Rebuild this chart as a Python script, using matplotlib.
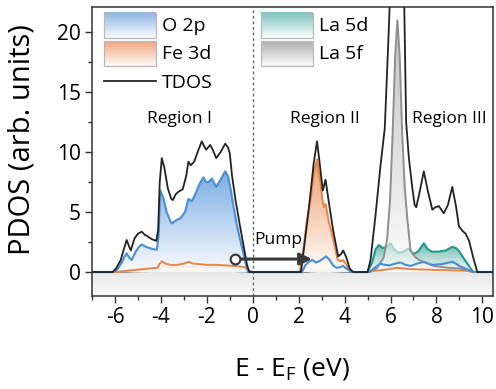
import numpy as np
import matplotlib
matplotlib.use("Agg")
import matplotlib.pyplot as plt
import matplotlib.colors as mcolors
from matplotlib.patches import Rectangle

plt.rcParams['font.family'] = ['Open Sans', 'DejaVu Sans']
plt.rcParams['axes.unicode_minus'] = False
plt.rcParams['mathtext.fontset'] = 'custom'
plt.rcParams['mathtext.rm'] = 'Open Sans'
plt.rcParams['mathtext.it'] = 'Open Sans:italic'

# ---------------- data (energy eV, PDOS arb. units) ----------------
TDOS = [(-7.0, 0), (-6.1, 0), (-5.95, 0.3), (-5.75, 1.0), (-5.6, 2.0), (-5.49, 2.67), (-5.4, 2.2),
        (-5.31, 1.8), (-5.15, 2.8), (-5.0, 3.2), (-4.83, 3.36), (-4.7, 3.1), (-4.6, 3.0),
        (-4.45, 2.8), (-4.35, 2.7), (-4.2, 2.6), (-4.12, 3.5), (-4.05, 7.5), (-3.96, 9.5),
        (-3.85, 8.7), (-3.7, 7.0), (-3.55, 6.1), (-3.48, 6.0), (-3.35, 6.5), (-3.23, 6.7),
        (-3.05, 6.9), (-2.9, 8.0), (-2.8, 9.2), (-2.7, 8.9), (-2.55, 9.2), (-2.4, 10.0),
        (-2.22, 10.9), (-2.12, 10.5), (-2.03, 10.2), (-1.85, 10.6), (-1.72, 10.1), (-1.59, 9.5),
        (-1.4, 10.0), (-1.2, 10.7), (-1.08, 10.4), (-1.0, 9.9), (-0.9, 8.0), (-0.75, 6.0),
        (-0.57, 4.0), (-0.4, 2.2), (-0.25, 0.6), (-0.15, 0),
        (2.1, 0), (2.2, 1.5), (2.35, 3.8), (2.5, 6.3), (2.65, 9.0), (2.8, 10.9), (2.92, 9.0),
        (3.05, 6.8), (3.17, 7.7), (3.3, 6.0), (3.5, 3.5), (3.72, 1.3), (3.85, 1.5), (3.94, 1.8),
        (4.08, 1.2), (4.22, 0.3), (4.37, 0),
        (5.0, 0), (5.13, 1.0), (5.34, 4.6), (5.56, 8.8), (5.75, 12.0), (5.92, 20.0), (6.0, 24.0),
        (6.3, 36.0), (6.6, 22.0), (6.68, 12.5), (6.8, 9.5), (6.95, 7.0), (7.05, 5.6), (7.12, 5.4),
        (7.25, 6.5), (7.45, 8.4), (7.62, 6.8), (7.82, 5.2), (7.95, 5.4), (8.1, 5.5), (8.32, 4.9),
        (8.5, 5.6), (8.69, 7.1), (8.85, 5.5), (8.98, 3.8), (9.15, 3.4), (9.27, 3.2), (9.42, 2.6),
        (9.63, 1.0), (9.78, 0), (10.45, 0)]

O2P = [(-7, 0), (-6.1, 0), (-5.9, 0.2), (-5.7, 0.8), (-5.58, 1.3), (-5.49, 1.56), (-5.38, 1.2),
       (-5.27, 1.0), (-5.1, 1.7), (-4.95, 2.1), (-4.83, 2.3), (-4.65, 2.1), (-4.5, 2.0),
       (-4.33, 1.9), (-4.18, 1.85), (-4.1, 3.0), (-4.03, 6.8), (-3.9, 6.2), (-3.75, 5.0),
       (-3.6, 4.3), (-3.52, 4.05), (-3.35, 4.3), (-3.15, 4.5), (-2.95, 5.0), (-2.8, 6.1),
       (-2.65, 5.9), (-2.5, 6.5), (-2.3, 7.4), (-2.15, 7.9), (-2.03, 7.5), (-1.93, 7.5),
       (-1.78, 7.8), (-1.68, 7.4), (-1.59, 7.1), (-1.4, 7.7), (-1.2, 8.4), (-1.08, 8.0),
       (-0.97, 7.0), (-0.85, 5.6), (-0.7, 4.0), (-0.55, 2.7), (-0.4, 1.5), (-0.28, 0.5), (-0.2, 0),
       (2.15, 0), (2.3, 0.6), (2.45, 0.85), (2.6, 1.0), (2.75, 0.8), (2.9, 0.9), (3.05, 1.1),
       (3.2, 1.3), (3.35, 1.0), (3.5, 0.55), (3.65, 0.35), (3.8, 0.4), (3.94, 0.5), (4.1, 0.25),
       (4.3, 0), (5.1, 0), (5.27, 0.3), (5.56, 0.7), (5.75, 0.6), (5.95, 0.55), (6.2, 0.7),
       (6.44, 0.8), (6.65, 0.6), (6.87, 0.5), (7.15, 0.7), (7.45, 0.85), (7.65, 0.7), (7.8, 0.6),
       (8.2, 0.65), (8.45, 0.75), (8.69, 0.85), (8.85, 0.7), (9.0, 0.5), (9.3, 0.25), (9.6, 0),
       (10.45, 0)]

FE3D = [(-7, 0), (-5.8, 0), (-5.5, 0.1), (-5.0, 0.2), (-4.5, 0.3), (-4.15, 0.35), (-4.05, 0.7),
        (-3.95, 0.9), (-3.8, 0.7), (-3.6, 0.6), (-3.3, 0.6), (-3.0, 0.7), (-2.8, 0.85), (-2.6, 0.7),
        (-2.3, 0.65), (-2.0, 0.6), (-1.6, 0.6), (-1.2, 0.55), (-0.8, 0.5), (-0.5, 0.45),
        (-0.3, 0.35), (-0.15, 0.1), (-0.05, 0), (2.05, 0), (2.2, 1.8), (2.35, 4.2), (2.52, 6.0),
        (2.65, 8.2), (2.8, 9.4), (2.92, 7.8), (3.04, 6.0), (3.1, 5.4), (3.17, 5.7), (3.3, 4.3),
        (3.5, 2.8), (3.7, 1.0), (3.82, 0.9), (3.94, 1.0), (4.08, 0.6), (4.2, 0.2), (4.35, 0),
        (5.0, 0), (5.3, 0.1), (5.8, 0.2), (6.3, 0.35), (6.8, 0.25), (7.5, 0.2), (8.5, 0.15),
        (9.3, 0.1), (9.6, 0), (10.45, 0)]

LA5D = [(-7, 0), (-6.0, 0), (-5.5, 0.05), (-4.5, 0.15), (-4.1, 0.2), (-3.95, 0.45), (-3.6, 0.4),
        (-3.0, 0.45), (-2.5, 0.4), (-2.0, 0.35), (-1.0, 0.3), (-0.3, 0.15), (0.0, 0), (2.2, 0),
        (2.8, 0.15), (3.5, 0.1), (4.3, 0), (5.0, 0), (5.2, 0.8), (5.35, 1.9), (5.49, 2.25),
        (5.65, 2.0), (5.85, 2.1), (6.0, 2.4), (6.15, 1.9), (6.35, 1.6), (6.55, 1.7), (6.8, 1.95),
        (7.0, 1.5), (7.2, 1.7), (7.45, 2.4), (7.62, 1.9), (7.8, 1.7), (8.1, 1.7), (8.4, 1.8),
        (8.69, 2.1), (8.85, 2.0), (9.0, 1.7), (9.2, 1.1), (9.35, 0.7), (9.5, 0.25), (9.62, 0),
        (10.45, 0)]

LA5F = [(-7, 0), (-6.0, 0), (-4.1, 0.1), (-1.0, 0.1), (0.0, 0), (2.2, 0), (3.0, 0.1), (4.3, 0),
        (5.0, 0), (5.4, 0.3), (5.7, 1.2), (5.85, 2.7), (5.98, 6.0), (6.1, 12.0), (6.2, 18.0),
        (6.3, 21.0), (6.4, 18.0), (6.5, 12.0), (6.62, 7.0), (6.73, 4.5), (6.87, 1.8), (7.05, 1.3),
        (7.24, 1.0), (7.9, 0.5), (8.5, 0.35), (9.0, 0.3), (9.5, 0.05), (9.7, 0), (10.45, 0)]

REGION_LABELS = ["Region I", "Region II", "Region III"]
REGION_X = [-3.2, 3.16, 8.57]
XTICKS = [-6, -4, -2, 0, 2, 4, 6, 8, 10]
YTICKS = [0, 5, 10, 15, 20]
PUMP_START = (-0.76, 1.08)
PUMP_END = (2.58, 1.08)

XLIM = (-7.0, 10.45)
YLIM = (-2.0, 22.1)


def split(pts):
    return np.array([p[0] for p in pts], float), np.array([p[1] for p in pts], float)


def gradient_img(color, alpha, lo=0.04, n=256):
    t = np.linspace(lo, 1, n)
    c = np.array(mcolors.to_rgb(color))
    rgb = 1 - t[:, None] * (1 - c[None, :])
    a = np.full((n, 1), alpha)
    return np.concatenate([rgb, a], axis=1)[:, None, :]


def grad_fill(ax, x, y, color, alpha, z):
    coll = ax.fill_between(x, 0, y, facecolor='none', edgecolor='none', zorder=z)
    ymax = min(y.max(), YLIM[1])
    im = ax.imshow(gradient_img(color, alpha), extent=[x.min(), x.max(), 0, ymax],
                   origin='lower', aspect='auto', zorder=z, interpolation='bilinear')
    im.set_clip_path(coll.get_paths()[0], transform=ax.transData)


fig = plt.figure(figsize=(4.96, 3.89), dpi=100)
ax = fig.add_axes([92 / 496, 1 - 296 / 389, 400.7 / 496, 289 / 389])

# below-zero light band
band = np.linspace(0, 1, 64)
band_rgb = np.stack([0.975 - 0.06 * band] * 3, axis=1)[:, None, :]
ax.imshow(band_rgb, extent=[XLIM[0], XLIM[1], YLIM[0], 0], origin='lower', aspect='auto',
          zorder=0.5, interpolation='bilinear')

xo, yo = split(O2P)
xf, yf = split(FE3D)
xd, yd = split(LA5D)
xg, yg = split(LA5F)
xt, yt = split(TDOS)

c_o = '#4a8ed6'
c_fe = '#ea8446'
c_d = '#1f9a8a'
c_g = '#8f8f8f'

grad_fill(ax, xo, yo, '#7aace2', 1.0, 2)
grad_fill(ax, xd, yd, '#52b0a2', 0.85, 3)
ax.plot(xd, yd, color=c_d, lw=1.5, zorder=3.1)
grad_fill(ax, xg, yg, '#a2a2a2', 0.65, 4)
ax.plot(xg, yg, color=c_g, lw=1.4, zorder=4.1)
grad_fill(ax, xf, yf, '#f09c6c', 0.95, 5)
ax.plot(xf, yf, color=c_fe, lw=1.4, zorder=5.1)
ax.plot(xo, yo, color=c_o, lw=1.5, zorder=6)
ax.plot(xt, yt, color='#222222', lw=1.3, zorder=7)

# Fermi level
ax.axvline(0, color='#666666', lw=1.0, ls=(0, (2, 2)), zorder=1.5)

# Pump arrow
ax.annotate('', xy=PUMP_END, xytext=PUMP_START,
            arrowprops=dict(arrowstyle='-|>', color='#3a3a3a', lw=2.2, mutation_scale=18,
                            shrinkA=0, shrinkB=0), zorder=8)
ax.plot(*PUMP_START, 'o', mfc='white', mec='#333333', ms=7, mew=1.5, zorder=9)
ax.text(0.07, 2.67, 'Pump', fontsize=12.5, ha='left', va='center', zorder=9)

# region labels
for lab, xr in zip(REGION_LABELS, REGION_X):
    ax.text(xr, 12.8, lab, fontsize=12.5, ha='center', va='center', zorder=9)

# manual legends
leg1 = [("O 2p", '#8cb5e4', 21.6, 19.48), ("Fe 3d", '#f2a57c', 19.25, 17.17)]
leg2 = [("La 5d", '#7cc3bb', 21.6, 19.48), ("La 5f", '#b0b0b0', 19.25, 17.17)]
for items, x0, x1 in [(leg1, -6.48, -4.22), (leg2, 0.37, 2.63)]:
    for lab, col, ytop, ybot in items:
        ax.imshow(gradient_img(col, 1.0, lo=0.05), extent=[x0, x1, ybot, ytop], origin='lower',
                  aspect='auto', zorder=9, interpolation='bilinear')
        ax.add_patch(Rectangle((x0, ybot), x1 - x0, ytop - ybot, fill=False, ec='#b8b8b8',
                               lw=0.9, zorder=9.5))
        ax.text(x1 + 0.27, (ytop + ybot) / 2, lab, fontsize=14, ha='left', va='center', zorder=10)
ax.plot([-6.48, -4.22], [15.9, 15.9], color='#222222', lw=1.3, zorder=9)
ax.text(-4.22 + 0.27, 15.75, 'TDOS', fontsize=14, ha='left', va='center', zorder=10)

ax.set_xlim(*XLIM)
ax.set_ylim(*YLIM)
ax.set_xticks(XTICKS)
ax.set_xticks(np.arange(-7, 11, 1), minor=True)
ax.set_yticks(YTICKS)
ax.set_yticks(np.arange(0, 22.5, 2.5), minor=True)
ax.tick_params(axis='both', which='major', direction='out', length=5, width=1.0,
               labelsize=15, color='#333333')
ax.tick_params(axis='both', which='minor', direction='out', length=3, width=1.0, color='#333333')
ax.tick_params(axis='x', pad=3)
ax.tick_params(axis='y', pad=3)
for s in ax.spines.values():
    s.set_color('#333333')
    s.set_linewidth(1.1)

fig.text(22.5 / 496, 1 - 140 / 389, 'PDOS (arb. units)', fontsize=21, rotation=90,
         ha='center', va='center')
ax.set_xlabel(r'E - E$_\mathregular{F}$ (eV)', fontsize=19, labelpad=20)

fig.savefig('out.png', dpi=100)
